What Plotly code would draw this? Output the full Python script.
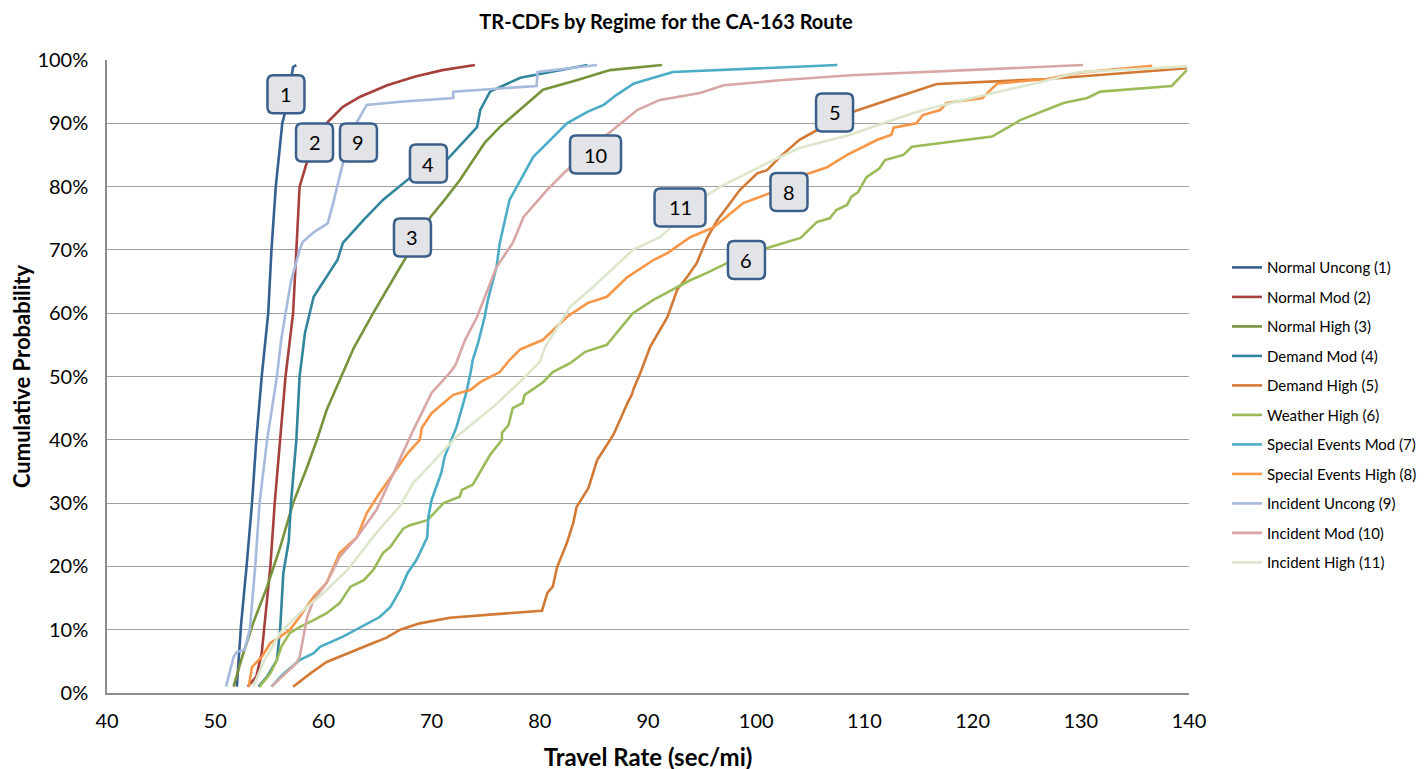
import plotly.graph_objects as go

# ---------------- data ----------------
names = ["Normal Uncong (1)", "Normal Mod (2)", "Normal High (3)", "Demand Mod (4)",
         "Demand High (5)", "Weather High (6)", "Special Events Mod (7)",
         "Special Events High (8)", "Incident Uncong (9)", "Incident Mod (10)",
         "Incident High (11)"]

colors = ["#376092", "#A5403D", "#77933C", "#31859C", "#D27A35", "#9BBB59",
          "#4BACC6", "#F79646", "#A7B9DD", "#D8A6A4", "#DCE6CC"]

x1 = [52.0, 52.4, 52.9, 53.4, 53.8, 54.3, 54.9, 55.2, 55.6, 56.2, 56.5, 57.2, 57.5]
y1 = [1, 11, 20, 30, 40, 50, 60, 70, 80, 90, 92, 98.9, 99.2]

x2 = [53.0, 53.8, 54.3, 54.8, 55.1, 55.5, 56.0, 56.5, 57.2, 57.5, 57.8, 58.5, 60.4,
      61.8, 63.4, 65.9, 68.5, 71.0, 74.0]
y2 = [1, 2.6, 6.3, 14.7, 20, 30, 40, 50, 60, 70, 80, 84, 90.2, 92.6, 94.2, 96, 97.4,
      98.4, 99.2]

x3 = [51.7, 52.4, 53.5, 54.8, 56.0, 57.2, 58.5, 59.4, 60.3, 61.8, 62.8, 64.6, 67.1,
      69.9, 71.2, 72.6, 74.9, 76.3, 77.9, 80.3, 83.4, 86.5, 91.3]
y3 = [1, 5.2, 11, 16.8, 23, 30, 35.7, 40, 44.7, 50.6, 54.5, 60, 67.3, 75.2, 77.9, 81,
      86.9, 89.4, 91.8, 95.3, 96.8, 98.4, 99.2]

x4 = [54.0, 54.8, 55.7, 56.0, 56.3, 56.8, 57.0, 57.5, 57.8, 58.3, 59.1, 60.3, 61.3,
      61.8, 63.7, 65.5, 68.0, 71.4, 72.9, 74.2, 74.5, 75.4, 78.2, 84.4]
y4 = [1, 2.6, 5.2, 10, 19, 24, 30, 40, 50, 56.9, 62.6, 65.7, 68.4, 71.1, 74.7, 77.9,
      81.4, 84.2, 87, 89.4, 92.1, 95, 97.2, 99.2]

x5 = [57.2, 58.8, 60.3, 62.5, 64.6, 65.8, 67.1, 68.9, 71.7, 76.3, 80.2, 80.7, 81.2,
      81.6, 82.1, 82.5, 83.1, 83.4, 84.5, 84.8, 85.3, 85.9, 86.8, 87.3, 87.7, 88.1,
      88.5, 88.7, 89.3, 90.2, 91.8, 92.7, 93.6, 94.5, 95.5, 96.4, 97.6, 98.5, 100.1,
      101.0, 102.2, 104.0, 105.6, 108.9, 112.4, 116.7, 126.9, 139.8]
y5 = [1, 3.1, 4.9, 6.5, 7.9, 8.7, 10, 11, 11.9, 12.5, 13, 15.8, 16.8, 19.9, 22.1,
      23.7, 26.9, 29.4, 32.4, 34.1, 36.8, 38.4, 40.8, 42.7, 44.4, 45.8, 47.1, 48.2,
      50.6, 54.7, 59.4, 63.7, 65.7, 67.9, 72, 74.7, 77.4, 79.5, 82.1, 82.6, 84.7,
      87.4, 88.9, 91.8, 93.8, 96.2, 97, 98.7]

x6 = [54.1, 55.1, 55.7, 56.1, 56.9, 57.8, 59.1, 60.3, 61.5, 62.5, 63.7, 64.6, 65.5,
      66.2, 66.8, 67.4, 68.0, 69.6, 70.5, 71.1, 72.6, 72.8, 73.8, 74.2, 75.4, 76.5,
      76.5, 77.1, 77.5, 78.4, 78.6, 80.3, 81.2, 82.8, 84.2, 86.2, 87.1, 88.6, 90.5,
      92.3, 93.9, 95.5, 97.3, 101.0, 104.1, 105.6, 106.8, 107.4, 108.4, 108.8, 109.4,
      110.2, 111.4, 111.9, 113.6, 114.4, 121.8, 124.4, 128.4, 130.6, 131.8, 138.4, 139.8]
y6 = [1, 3.1, 5.2, 7.3, 9.5, 10.4, 11.5, 12.6, 14.2, 16.8, 17.8, 19.4, 22.1, 23.1,
      24.6, 26, 26.5, 27.3, 28.9, 30, 31, 32.1, 32.9, 34.1, 37.6, 40, 41.1, 42.3, 45,
      45.8, 47.1, 49.1, 50.7, 52.1, 53.9, 55, 56.9, 60, 62.1, 63.7, 65.2, 66.4, 67.9,
      70.3, 71.9, 74.4, 75, 76.3, 77.1, 78.4, 79.1, 81.5, 82.9, 84.2, 85, 86.3, 87.9,
      90.5, 93.2, 94, 95, 95.9, 98.4]

x7 = [55.2, 56.3, 57.8, 59.1, 59.7, 61.8, 65.2, 66.2, 67.1, 67.8, 68.6, 69.6, 69.7,
      70.0, 70.9, 71.2, 72.3, 73.2, 73.6, 73.8, 74.3, 74.9, 75.2, 76.0, 76.3, 77.2,
      78.2, 79.4, 80.7, 82.5, 84.4, 85.9, 87.1, 88.7, 92.3, 107.5]
y7 = [1, 3, 5.2, 6.3, 7.3, 8.9, 12, 13.6, 16.3, 19, 21, 24.6, 27.8, 30.5, 34.8, 37.3,
      42, 47.4, 50.6, 52.6, 55.3, 59.4, 62.1, 67.3, 71.1, 77.9, 81, 84.7, 86.9, 90,
      91.8, 92.9, 94.5, 96.3, 98.1, 99.2]

x8 = [53.1, 53.4, 54.3, 55.1, 56.0, 56.9, 57.8, 59.1, 60.3, 61.5, 63.1, 64.0, 65.2,
      67.1, 67.8, 68.9, 69.1, 70.0, 72.0, 73.6, 74.5, 76.3, 77.2, 78.2, 80.3, 82.5,
      84.4, 86.2, 88.1, 90.5, 91.8, 93.9, 96.1, 98.8, 101.3, 104.7, 106.5, 108.4,
      111.2, 112.5, 112.7, 114.8, 115.4, 117.0, 117.6, 120.9, 122.3, 126.9, 129.9, 136.6]
y8 = [1, 4.1, 5.7, 7.9, 8.9, 10, 12, 15.2, 17.4, 22.1, 24.6, 28.4, 31.6, 36.2, 37.9,
      40, 41.9, 44.2, 47.1, 47.9, 49.1, 50.7, 52.6, 54.3, 55.8, 59.4, 61.6, 62.6, 65.7,
      68.4, 69.5, 72, 73.6, 77.4, 79, 82, 83, 85, 87.4, 88.2, 89.3, 90, 91.3, 92.1,
      93.2, 94, 96.3, 97, 98, 99.1]

x9 = [51.0, 51.7, 52.0, 52.7, 53.2, 53.7, 54.1, 54.8, 55.7, 56.1, 56.5, 57.0, 57.8,
      58.1, 59.1, 60.4, 60.9, 61.3, 61.8, 63.1, 64.0, 67.1, 72.0, 72.0, 79.7, 79.8, 85.3]
y9 = [1, 5.7, 6.5, 6.8, 10, 20, 30, 40, 50, 55.8, 60, 65, 70, 71.3, 72.8, 74.2, 77.4,
      80, 83.7, 90.2, 92.9, 93.4, 94, 95, 95.9, 98.1, 99.2]

x10 = [55.2, 56.1, 57.5, 57.8, 58.1, 58.5, 59.1, 60.3, 61.5, 63.1, 64.9, 67.1, 68.3,
       70.0, 71.7, 72.2, 73.1, 74.2, 75.1, 76.0, 77.5, 78.5, 80.7, 82.2, 86.2, 89.0,
       91.1, 94.8, 97.0, 102.2, 108.7, 130.2]
y10 = [1, 2.5, 4.7, 5.7, 8.4, 12, 14.7, 17.4, 21.5, 24.6, 28.9, 37, 41.5, 47.4, 50.6,
       51.8, 55.8, 59.4, 63.2, 67.3, 71.1, 75.2, 79.5, 82.1, 88.2, 92.1, 93.7, 94.8,
       96, 96.8, 97.6, 99.2]

x11 = [53.5, 54.5, 56.0, 57.8, 60.0, 62.2, 64.9, 67.1, 68.3, 69.6, 72.3, 75.7, 78.5,
       80.0, 80.5, 82.8, 84.9, 88.6, 91.1, 95.5, 96.7, 101.0, 104.0, 108.7, 111.2,
       114.8, 118.5, 122.5, 126.2, 129.9, 139.8]
y11 = [1, 5, 9.5, 12.6, 15.8, 19.4, 25.3, 29.6, 33.2, 35.5, 40.5, 45.2, 49.7, 52.3,
       54.7, 61, 64.1, 70, 72, 78.7, 80, 83.7, 86.1, 88.2, 89.7, 91.8, 93.4, 95, 96.5,
       98.1, 99]

xs = [x1, x2, x3, x4, x5, x6, x7, x8, x9, x10, x11]
ys = [y1, y2, y3, y4, y5, y6, y7, y8, y9, y10, y11]

# callout labels (text, x, y)
label_text = ["1", "2", "9", "4", "3", "10", "11", "5", "8", "6"]
label_x = [56.54, 59.18, 63.24, 69.71, 68.23, 85.15, 92.96, 107.24, 103.03, 99.10]
label_y = [94.6, 86.97, 86.97, 83.65, 71.96, 85.07, 76.7, 91.71, 79.15, 68.4]

x_ticks = [40, 50, 60, 70, 80, 90, 100, 110, 120, 130, 140]
y_ticks = [0, 10, 20, 30, 40, 50, 60, 70, 80, 90, 100]

FONT = "Lato"
W, H = 1427, 769
# the page body adds an 8px offset; margins compensate for it
ML, MR, MT, MB = 99, 246, 52, 84

fig = go.Figure()
for i in range(len(names)):
    fig.add_trace(go.Scatter(
        x=xs[i], y=ys[i], mode="lines", name=names[i],
        legendgroup=f"g{i}",
        line=dict(color=colors[i], width=2.6),
    ))


def rounded_rect(w, h, r):
    hw, hh = w / 2.0, h / 2.0
    return (f"M {-hw + r},{-hh} L {hw - r},{-hh} Q {hw},{-hh} {hw},{-hh + r} "
            f"L {hw},{hh - r} Q {hw},{hh} {hw - r},{hh} L {-hw + r},{hh} "
            f"Q {-hw},{hh} {-hw},{hh - r} L {-hw},{-hh + r} Q {-hw},{-hh} {-hw + r},{-hh} Z")


shapes = []
annotations = []
for t, lx, ly in zip(label_text, label_x, label_y):
    w = 51 if len(t) > 1 else 37
    shapes.append(dict(
        type="path", xref="x", yref="y", xsizemode="pixel", ysizemode="pixel",
        xanchor=lx, yanchor=ly, path=rounded_rect(w, 38, 6),
        fillcolor="#E2E4E7", line=dict(color="#3A5F8B", width=2.5), layer="above",
    ))
    annotations.append(dict(
        x=lx, y=ly, xref="x", yref="y", text=t, showarrow=False,
        font=dict(family=FONT, size=20, color="#000000"),
    ))

plot_w = W - ML - MR

fig.update_layout(
    width=W, height=H,
    margin=dict(l=ML, r=MR, t=MT, b=MB),
    paper_bgcolor="white", plot_bgcolor="white",
    font=dict(family=FONT, color="#000000"),
    title=dict(text="<b>TR-CDFs by Regime for the CA-163 Route</b>",
               x=(658 - ML) / plot_w, xref="paper", xanchor="center",
               y=1 - 14 / H, yanchor="middle",
               font=dict(family=FONT, size=20, color="#000000")),
    showlegend=True,
    legend=dict(x=(1219 - ML) / plot_w, y=0.698, xanchor="left", yanchor="top",
                font=dict(family=FONT, size=15, color="#000000"),
                tracegroupgap=7, bgcolor="rgba(0,0,0,0)"),
    shapes=shapes,
    annotations=annotations,
)

fig.update_xaxes(
    range=[40, 140], tickvals=x_ticks, ticktext=[str(v) for v in x_ticks],
    showgrid=False, zeroline=False, automargin=False,
    showline=True, linecolor="#8C8C8C", linewidth=1.5,
    ticks="outside", ticklen=9, tickcolor="rgba(0,0,0,0)",
    tickfont=dict(family=FONT, size=20, color="#000000"),
    title=dict(text="<b>Travel Rate (sec/mi)</b>", standoff=18,
               font=dict(family=FONT, size=24, color="#000000")),
)
fig.update_yaxes(
    range=[0, 100], tickvals=y_ticks, ticktext=[f"{v}%" for v in y_ticks],
    showgrid=True, gridcolor="#A0A0A0", gridwidth=1.3, zeroline=False, automargin=False,
    showline=True, linecolor="#8C8C8C", linewidth=1.5,
    ticks="outside", ticklen=13, tickcolor="rgba(0,0,0,0)",
    tickfont=dict(family=FONT, size=20, color="#000000"),
    title=dict(text="<b>Cumulative Probability</b>", standoff=4,
               font=dict(family=FONT, size=22, color="#000000")),
)

fig.write_html("out.html")
